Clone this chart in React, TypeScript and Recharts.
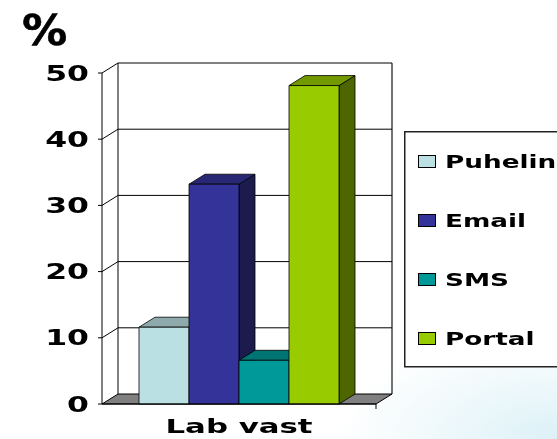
import { BarChart, Bar, XAxis, YAxis, CartesianGrid, Legend } from "recharts";

const categories = ["Lab vast"];
const puhelin = [11.6];
const email = [33.2];
const sms = [6.6];
const portal = [48.1];
const seriesKeys = ["Puhelin", "Email", "SMS", "Portal"];
const yTicks = [0, 10, 20, 30, 40, 50];

const data = categories.map((name, i) => ({
  name,
  Puhelin: puhelin[i],
  Email: email[i],
  SMS: sms[i],
  Portal: portal[i],
}));

// front / top / side shade of each box
const shades: Record<string, [string, string, string]> = {
  Puhelin: ["#bbe0e3", "#8eaaad", "#6d8a8c"],
  Email: ["#333399", "#272773", "#1b1b4d"],
  SMS: ["#009999", "#007373", "#004d4d"],
  Portal: ["#99cc00", "#739900", "#4d6600"],
};

// oblique depth of the 3D walls and boxes
const DX = 16;
const DY = 10;
const FONT = "'DejaVu Sans', Verdana, sans-serif";

function Box3D(props: any) {
  const { x, y, width: w, height: h, colors } = props;
  if (!h || h <= 0) return null;
  const [front, top, side] = colors;
  return (
    <g stroke="#000" strokeWidth={0.8} strokeLinejoin="round">
      <polygon
        points={`${x + w},${y} ${x + w + DX},${y - DY} ${x + w + DX},${y + h - DY} ${x + w},${y + h}`}
        fill={side}
      />
      <polygon
        points={`${x},${y} ${x + DX},${y - DY} ${x + w + DX},${y - DY} ${x + w},${y}`}
        fill={top}
      />
      <rect x={x} y={y} width={w} height={h} fill={front} />
    </g>
  );
}

// back wall, side wall and floor, hung off each horizontal grid line
function WallLine(props: any) {
  const { x1, x2, y1, index } = props;
  const pts: number[] = props.horizontalPoints ?? [];
  const bottom = props.height != null ? props.y + props.height : Math.max(...pts);
  const top = props.height != null ? props.y : Math.min(...pts);
  const isFloor = Math.abs(y1 - bottom) < 0.5;
  return (
    <g key={`wall-${index}`} stroke="#000" strokeWidth={1} fill="none">
      {isFloor ? (
        <>
          <line x1={x1 + DX} y1={top - DY} x2={x1 + DX} y2={bottom - DY} />
          <line x1={x2 + DX} y1={top - DY} x2={x2 + DX} y2={bottom - DY} stroke="#444" strokeWidth={1.5} />
          <polygon
            points={`${x1},${y1} ${x2},${y1} ${x2 + DX},${y1 - DY} ${x1 + DX},${y1 - DY}`}
            fill="#808080"
          />
          <line x1={x2} y1={y1} x2={x2} y2={y1 + 5} />
        </>
      ) : (
        <>
          <line x1={x1 + DX} y1={y1 - DY} x2={x2 + DX} y2={y1 - DY} />
          <line x1={x1} y1={y1} x2={x1 + DX} y2={y1 - DY} />
        </>
      )}
    </g>
  );
}

function YTick({ x, y, payload }: any) {
  return (
    <text
      transform={`translate(${x - 1} ${y + 7.5}) scale(1.5 1)`}
      textAnchor="end"
      fontSize={21}
      fontWeight="bold"
      fontFamily={FONT}
      fill="#000"
    >
      {payload.value}
    </text>
  );
}

function XTick({ x, y, payload }: any) {
  return (
    <text
      transform={`translate(${x} ${y + 29}) scale(1.54 1)`}
      textAnchor="middle"
      fontSize={20}
      fontWeight="bold"
      fontFamily={FONT}
      fill="#000"
    >
      {payload.value}
    </text>
  );
}

function PercentLabel({ viewBox, value }: any) {
  return (
    <text
      transform={`translate(${viewBox.x + 22} ${viewBox.y - 28}) scale(1.05 1)`}
      fontSize={43}
      fontWeight="bold"
      fontFamily={FONT}
      fill="#000"
      stroke="#000"
      strokeWidth={0.6}
    >
      {value}
    </text>
  );
}

function LegendBox({ payload }: any) {
  const items = [...(payload ?? [])].sort(
    (a: any, b: any) => seriesKeys.indexOf(a.value) - seriesKeys.indexOf(b.value)
  );
  return (
    <svg width={153} height={237} style={{ display: "block", overflow: "hidden" }}>
      <rect x={0.75} y={0.75} width={200} height={235} fill="#fff" stroke="#222" strokeWidth={1.5} />
      {items.map((e: any, i: number) => {
        const base = 37 + i * 59;
        return (
          <g key={e.value}>
            <rect x={14.5} y={base - 12.5} width={17} height={12} fill={e.color} stroke="#000" />
            <text
              transform={`translate(41 ${base}) scale(1.46 1)`}
              fontSize={18}
              fontWeight="bold"
              fontFamily={FONT}
              fill="#000"
            >
              {e.value}
            </text>
          </g>
        );
      })}
    </svg>
  );
}

export default function App() {
  return (
    <div
      style={{
        position: "fixed",
        left: 0,
        top: 0,
        width: 557,
        height: 439,
        overflow: "hidden",
        background: "radial-gradient(ellipse 220px 110px at 100% 100%, #dcf1f7 0%, #ffffff 100%)",
      }}
    >
      <BarChart
        width={557}
        height={439}
        data={data}
        margin={{ top: 73, right: 181, left: 0, bottom: 0 }}
        barGap={0}
        barCategoryGap={37}
      >
        <CartesianGrid vertical={false} horizontal={WallLine} fill="none" />
        <XAxis
          dataKey="name"
          height={35}
          axisLine={{ stroke: "#000" }}
          tickLine={false}
          tickSize={0}
          tickMargin={0}
          tick={XTick}
        />
        <YAxis
          width={102}
          domain={[0, 50]}
          ticks={yTicks}
          interval={0}
          axisLine={{ stroke: "#000" }}
          tickLine={{ stroke: "#000" }}
          tickSize={4}
          tickMargin={8}
          tick={YTick}
          label={{ value: "%", position: "insideTopLeft", content: PercentLabel }}
        />
        <Legend
          layout="vertical"
          align="center"
          verticalAlign="middle"
          content={LegendBox}
          wrapperStyle={{ left: 404, top: 131, width: 153, height: 237 }}
        />
        {seriesKeys.map((k) => (
          <Bar
            key={k}
            dataKey={k}
            fill={shades[k][0]}
            isAnimationActive={false}
            shape={(p: any) => <Box3D {...p} colors={shades[k]} />}
          />
        ))}
      </BarChart>
    </div>
  );
}
